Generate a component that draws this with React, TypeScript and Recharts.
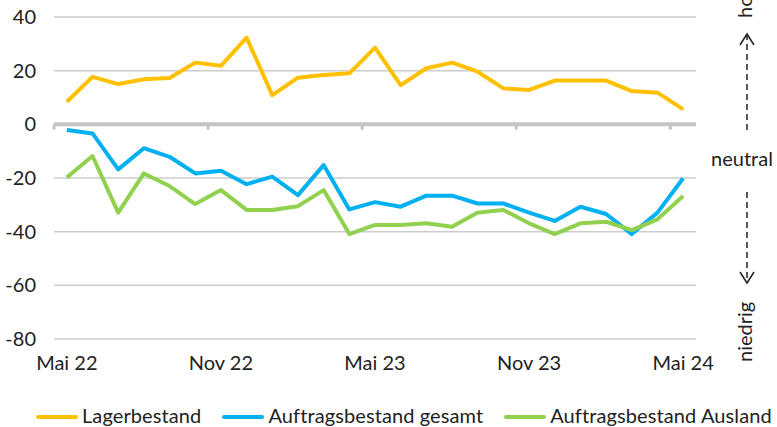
import React from "react";
import { LineChart, Line, XAxis, YAxis, CartesianGrid, ReferenceLine } from "recharts";

const months = [
  "Mai 22", "Jun 22", "Jul 22", "Aug 22", "Sep 22", "Okt 22", "Nov 22", "Dez 22",
  "Jan 23", "Feb 23", "Mär 23", "Apr 23", "Mai 23", "Jun 23", "Jul 23", "Aug 23",
  "Sep 23", "Okt 23", "Nov 23", "Dez 23", "Jan 24", "Feb 24", "Mär 24", "Apr 24", "Mai 24",
];

const lagerbestand = [
  8.4, 17.7, 15.0, 16.8, 17.3, 23.0, 21.8, 32.3, 10.9, 17.4, 18.4, 19.0, 28.6,
  14.6, 20.9, 23.0, 19.6, 13.4, 12.8, 16.3, 16.3, 16.3, 12.4, 11.8, 5.6,
];

const auftragGesamt = [
  -2.1, -3.4, -16.8, -8.9, -12.1, -18.3, -17.3, -22.3, -19.5, -26.4, -15.2, -31.7, -29.0,
  -30.7, -26.6, -26.6, -29.5, -29.5, -32.9, -36.0, -30.7, -33.4, -40.9, -32.9, -20.1,
];

const auftragAusland = [
  -19.8, -11.8, -32.9, -18.3, -23.0, -29.7, -24.5, -31.9, -31.9, -30.5, -24.5, -40.9, -37.5,
  -37.5, -36.9, -38.2, -32.9, -31.9, -36.9, -40.9, -36.9, -36.3, -39.4, -35.4, -26.7,
];

const yTicks = [-80, -60, -40, -20, 0, 20, 40];
const xLabelIdx = [0, 6, 12, 18, 24];
const tickBoundaries = [-0.5, 5.5, 11.5, 17.5, 23.5];

const series = [
  { key: "lager", name: "Lagerbestand", color: "#FFC000" },
  { key: "gesamt", name: "Auftragsbestand gesamt", color: "#00B0F0" },
  { key: "ausland", name: "Auftragsbestand Ausland", color: "#92D050" },
];

const data = months.map((m, i) => ({
  x: i,
  month: m,
  lager: lagerbestand[i],
  gesamt: auftragGesamt[i],
  ausland: auftragAusland[i],
}));

const FONT = "Lato, 'Noto Sans', sans-serif";
const TEXT = "#222";

export default function App() {
  return (
    <div
      style={{
        position: "absolute",
        left: 0,
        top: 0,
        width: 777,
        height: 427,
        fontFamily: FONT,
        background: "#fff",
        overflow: "hidden",
      }}
    >
      <LineChart
        width={777}
        height={427}
        data={data}
        margin={{ top: 17, right: 81, bottom: 0, left: 0 }}
      >
        <CartesianGrid vertical={false} stroke="#cccccc" strokeWidth={1.5} />
        <XAxis
          dataKey="x"
          type="number"
          domain={[-0.5, 24.5]}
          ticks={xLabelIdx}
          interval={0}
          tickFormatter={(v: number) => months[v]}
          axisLine={false}
          tickLine={false}
          tickSize={0}
          tickMargin={17}
          height={88}
          tick={{ fontSize: 20, fill: TEXT, fontFamily: FONT }}
        />
        <YAxis
          domain={[-80, 40]}
          ticks={yTicks}
          interval={0}
          axisLine={false}
          tickLine={false}
          tickSize={0}
          tickMargin={18}
          width={54}
          tick={{ fontSize: 20, fill: TEXT, fontFamily: FONT }}
        />
        <ReferenceLine y={0} stroke="#c4c4c4" strokeWidth={4} />
        {tickBoundaries.map((b) => (
          <ReferenceLine
            key={b}
            segment={[
              { x: b, y: 0 },
              { x: b, y: -2 },
            ]}
            stroke="#c4c4c4"
            strokeWidth={3}
          />
        ))}
        {series.map((s) => (
          <Line
            key={s.key}
            type="linear"
            dataKey={s.key}
            name={s.name}
            stroke={s.color}
            strokeWidth={4}
            dot={false}
            activeDot={false}
            strokeLinejoin="round"
            isAnimationActive={false}
          />
        ))}
      </LineChart>

      <svg
        width={777}
        height={427}
        style={{ position: "absolute", left: 0, top: 0, pointerEvents: "none" }}
        fontFamily={FONT}
      >
        <text transform="translate(752,18) rotate(-90)" fontSize={20} fill={TEXT}>
          hoch
        </text>
        <line x1={747} y1={130} x2={747} y2={35} stroke={TEXT} strokeWidth={1.5} strokeDasharray="6 4" />
        <polyline points="740,45 747,34 754,45" fill="none" stroke={TEXT} strokeWidth={1.5} />
        <text x={742} y={166} fontSize={20} fill={TEXT} textAnchor="middle">
          neutral
        </text>
        <line x1={747} y1={192} x2={747} y2={282} stroke={TEXT} strokeWidth={1.5} strokeDasharray="6 4" />
        <polyline points="740,272 747,283 754,272" fill="none" stroke={TEXT} strokeWidth={1.5} />
        <text transform="translate(752,362) rotate(-90)" fontSize={20} fill={TEXT}>
          niedrig
        </text>
      </svg>

      <div
        style={{
          position: "absolute",
          left: 36,
          top: 405,
          display: "flex",
          alignItems: "center",
          height: 20,
          lineHeight: "20px",
          fontSize: 20,
          color: TEXT,
          whiteSpace: "nowrap",
          letterSpacing: "0.1px",
        }}
      >
        {series.map((s) => (
          <div key={s.key} style={{ display: "flex", alignItems: "center", marginRight: 21 }}>
            <span
              style={{
                display: "inline-block",
                width: 42,
                height: 4,
                borderRadius: 2,
                background: s.color,
                marginRight: 4,
                position: "relative",
                top: 2,
              }}
            />
            <span>{s.name}</span>
          </div>
        ))}
      </div>
    </div>
  );
}
